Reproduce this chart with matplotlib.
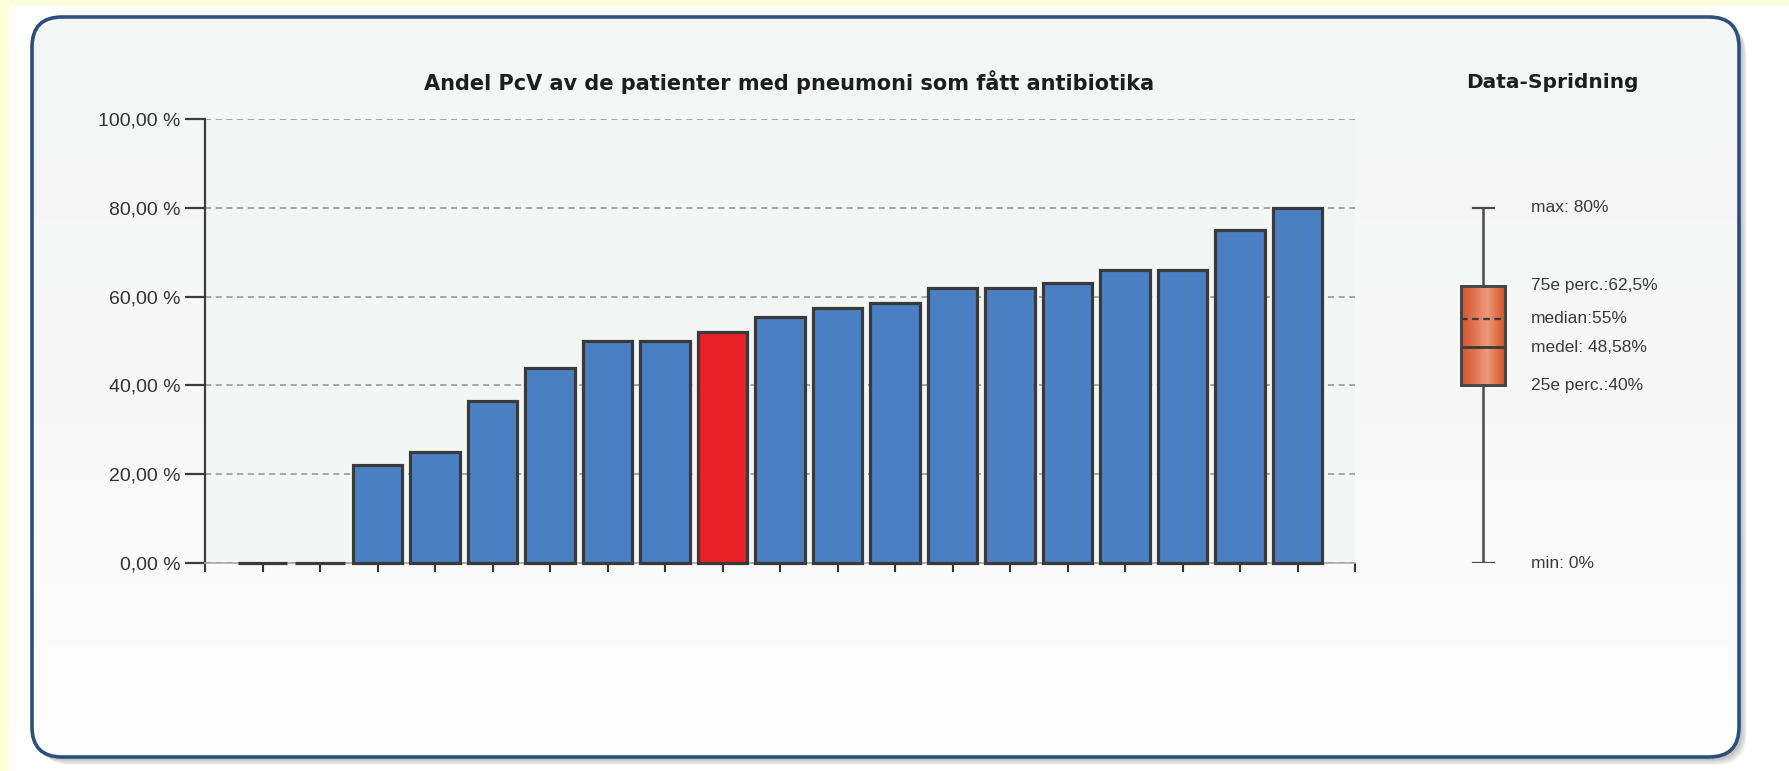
import numpy as np
import matplotlib
matplotlib.use("Agg")
import matplotlib.pyplot as plt
from matplotlib.patches import FancyBboxPatch, Rectangle
from matplotlib.ticker import FuncFormatter, FixedLocator
from matplotlib.colors import LinearSegmentedColormap

# ---------------- data ----------------
values = [0, 0, 22, 25, 36.5, 44, 50, 50, 52, 55.5, 57.5, 58.5, 62, 62, 63, 66, 66, 75, 80]
highlight_index = 8
title = "Andel PcV av de patienter med pneumoni som fått antibiotika"
spread_title = "Data-Spridning"
y_ticks = [0, 20, 40, 60, 80, 100]
stat_min, stat_q1, stat_med, stat_mean, stat_q3, stat_max = 0, 40, 55, 48.58, 62.5, 80
stat_values = [stat_max, stat_q3, stat_med, stat_mean, stat_q1, stat_min]
stat_labels = ["max: 80%", "75e perc.:62,5%", "median:55%", "medel: 48,58%",
               "25e perc.:40%", "min: 0%"]

# ---------------- figure ----------------
W, H = 1789, 771
fig = plt.figure(figsize=(W / 100, H / 100), dpi=100)
fig.patch.set_facecolor("white")

bg = fig.add_axes([0, 0, 1, 1], zorder=0)
bg.set_xlim(0, W)
bg.set_ylim(H, 0)
bg.axis("off")

yellow = "#fffedb"
bg.add_patch(Rectangle((0, 0), W, 6, color=yellow, lw=0))
bg.add_patch(Rectangle((0, 0), 10, H, color=yellow, lw=0))

px, py, pw, ph = 32, 17, 1707, 740
style = "round,pad=0,rounding_size=30"
# soft shadow
for k in range(7):
    bg.add_patch(FancyBboxPatch((px + 3 + k * 0.8, py + 3 + k * 0.8), pw, ph,
                                boxstyle=style, fc="#000000", ec="none",
                                alpha=0.035, zorder=1))
panel = FancyBboxPatch((px, py), pw, ph, boxstyle=style, fc="#f7f7f7",
                       ec="none", zorder=2)
bg.add_patch(panel)
grad = np.linspace(0, 1, 256).reshape(-1, 1)
cm_bg = LinearSegmentedColormap.from_list(
    "bg", [(0, "#f5f6f6"), (0.55, "#f8f8f8"), (0.85, "#fcfcfc"), (1, "#ffffff")])
im = bg.imshow(grad, extent=(px, px + pw, py + ph, py), cmap=cm_bg,
               aspect="auto", zorder=3, origin="upper")
im.set_clip_path(panel)
bg.add_patch(FancyBboxPatch((px, py), pw, ph, boxstyle=style, fc="none",
                            ec="#2d4f7e", lw=2.6, zorder=4))

# ---------------- main bar chart ----------------
left, right, top, bottom = 205, 1355, 119, 563
ax = fig.add_axes([left / W, 1 - bottom / H, (right - left) / W, (bottom - top) / H],
                  zorder=2)
ax.set_facecolor("#f4f6f6")
x = np.arange(len(values))
colors = ["#e82226" if i == highlight_index else "#4b7fc4" for i in range(len(values))]
bars = ax.bar(x, values, width=0.86, color=colors, edgecolor="#3a3a3a",
              linewidth=2.3, zorder=3)
for b in bars:
    b.set_clip_on(False)
ax.set_xlim(-1, len(values))
ax.set_ylim(y_ticks[0], y_ticks[-1])
ax.yaxis.set_major_locator(FixedLocator(y_ticks))
ax.yaxis.set_major_formatter(FuncFormatter(lambda v, p: f"{v:.2f}".replace(".", ",") + " %"))
ax.xaxis.set_major_locator(FixedLocator(list(range(-1, len(values) + 1))))
ax.set_xticklabels([])
ax.grid(axis="y", linestyle=(0, (4, 3)), color="#8f8f8f", linewidth=1.1, zorder=1)
ax.set_axisbelow(True)
for s in ["top", "right"]:
    ax.spines[s].set_visible(False)
ax.spines["left"].set_color("#3c3c3c")
ax.spines["left"].set_linewidth(1.6)
ax.spines["bottom"].set_color("#a8a8a8")
ax.spines["bottom"].set_linewidth(1.2)
ax.tick_params(axis="y", length=14.4, width=1.6, color="#3c3c3c", pad=3,
               labelsize=14, labelcolor="#333333")
ax.tick_params(axis="x", length=6.5, width=1.5, color="#333333")
for lab in ax.get_yticklabels():
    lab.set_fontfamily("Liberation Sans")

fig.text(789 / W, 1 - 82 / H, title, ha="center", va="center", fontsize=15,
         fontweight="bold", family="DejaVu Sans", color="#1e1e1e")

# ---------------- spread (box) panel ----------------
bl, br = 1440, 1700
bx = fig.add_axes([bl / W, 1 - bottom / H, (br - bl) / W, (bottom - top) / H],
                  zorder=2)
bx.set_xlim(0, 1)
bx.set_ylim(y_ticks[0], y_ticks[-1])
bx.axis("off")
bpos = (1483 - bl) / (br - bl)
bwid = 44 / (br - bl)
stats = [dict(med=stat_med, q1=stat_q1, q3=stat_q3, whislo=stat_min,
              whishi=stat_max, mean=stat_mean, fliers=[])]
bp = bx.bxp(stats, positions=[bpos], widths=bwid, capwidths=21 / (br - bl),
            showmeans=True, meanline=True, patch_artist=True,
            boxprops=dict(facecolor="#dd5a31", edgecolor="#444444", linewidth=2),
            medianprops=dict(color="#3a3a3a", linestyle=(0, (3, 2)), linewidth=1.6),
            meanprops=dict(color="#3a3a3a", linestyle="-", linewidth=2),
            whiskerprops=dict(color="#4a4a4a", linewidth=1.8),
            capprops=dict(color="#4a4a4a", linewidth=1.6))
box = bp["boxes"][0]
box.set_zorder(2)
hgrad = np.linspace(0, 1, 256).reshape(1, -1)
cm_box = LinearSegmentedColormap.from_list(
    "box", [(0, "#d64f27"), (0.6, "#eb9a7c"), (1, "#d4511f")])
bim = bx.imshow(hgrad, extent=(bpos - bwid / 2, bpos + bwid / 2, stat_q1, stat_q3),
                cmap=cm_box, aspect="auto", zorder=2.5)
bim.set_clip_path(box)
for key in ["medians", "means", "whiskers", "caps"]:
    for ln in bp[key]:
        ln.set_zorder(3)
edge = plt.Rectangle((bpos - bwid / 2, stat_q1), bwid, stat_q3 - stat_q1,
                     fc="none", ec="#444444", lw=2, zorder=4)
bx.add_patch(edge)

lab_x = (1531 - bl) / (br - bl)
for v, lbl in zip(stat_values, stat_labels):
    bx.text(lab_x, v, lbl, ha="left", va="center", fontsize=12.5,
            family="Liberation Sans", color="#3a3a3a")

fig.text(1552 / W, 1 - 82 / H, spread_title, ha="center", va="center", fontsize=14.5,
         fontweight="bold", family="DejaVu Sans", color="#1e1e1e")

fig.savefig("out.png", dpi=100, facecolor=fig.get_facecolor())
